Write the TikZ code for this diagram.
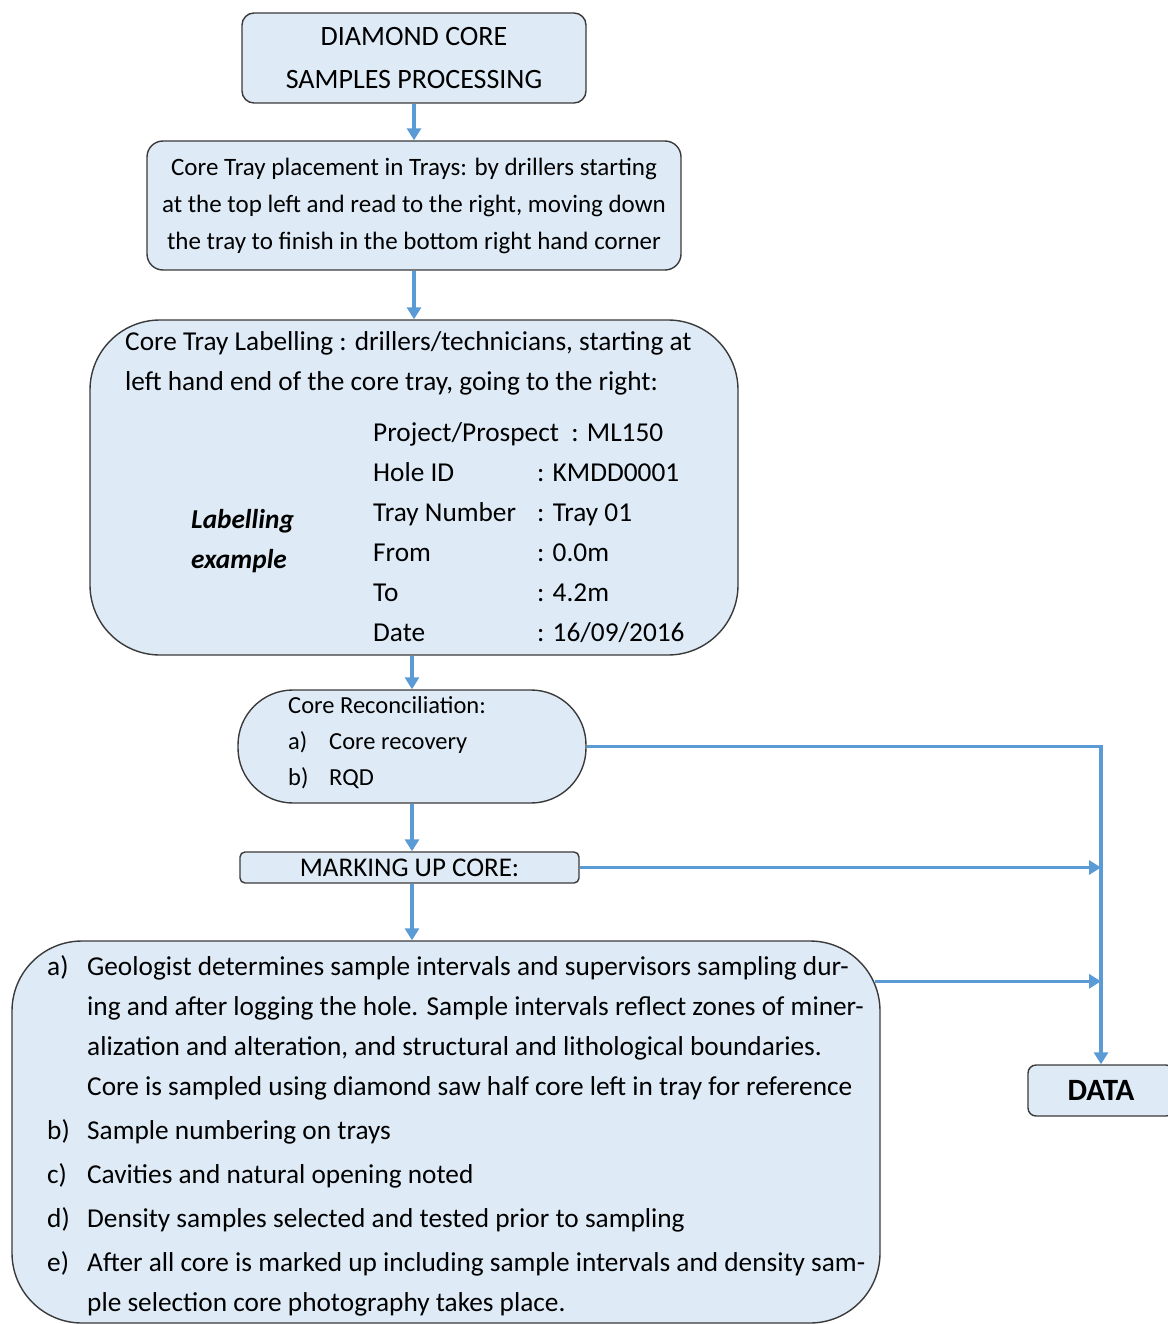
\documentclass[tikz,border=0pt]{standalone}
\usepackage{fontspec}
\setmainfont{Carlito}
\usetikzlibrary{positioning,arrows.meta}
\definecolor{boxfill}{HTML}{DEEBF7}
\definecolor{flowblue}{HTML}{5B9BD5}
\definecolor{edgegray}{HTML}{3A3A3A}

\begin{document}
\begin{tikzpicture}[
    x=1pt,
    y=-1pt,
    proc/.style={
        draw=edgegray,
        fill=boxfill,
        line width=1.4pt,
        inner sep=0pt,
        align=center
    },
    flow/.style={
        draw=flowblue,
        line width=3.5pt,
        -{Triangle[length=12pt,width=14pt]}
    },
    txt/.style={
        inner sep=0pt,
        align=left,
        anchor=west
    }
]
    \useasboundingbox (0,0) rectangle (1167,1324);

    % Process boxes
    \node[proc, rounded corners=12pt, minimum width=344pt, minimum height=90pt,
        font=\fontsize{28}{43}\selectfont] (title) at (414,58)
        {DIAMOND CORE\\SAMPLES PROCESSING};
    \node[proc, rounded corners=16pt, minimum width=534pt, minimum height=129pt,
        font=\fontsize{25}{37}\selectfont] (placement) at (414,205.5)
        {Core Tray placement in Trays: by drillers starting\\
         at the top left and read to the right, moving down\\
         the tray to finish in the bottom right hand corner};
    \node[proc, rounded corners=70pt, minimum width=648pt, minimum height=335pt]
        (labelling) at (414,487.5) {};
    \node[proc, rounded corners=55pt, minimum width=348pt, minimum height=113pt]
        (recon) at (412,746.5) {};
    \node[proc, rounded corners=5pt, minimum width=339pt, minimum height=31pt,
        font=\fontsize{27}{28}\selectfont] (marking) at (409.5,867.5)
        {MARKING UP CORE:};
    \node[proc, rounded corners=70pt, minimum width=868pt, minimum height=382pt]
        (sampling) at (446,1132) {};
    \node[proc, rounded corners=8pt, minimum width=146pt, minimum height=51pt,
        font=\fontsize{31}{32}\selectfont\bfseries] (data) at (1101,1090.5) {DATA};

    % Labelling text
    \node[txt, font=\fontsize{27.3}{40}\selectfont] (labhead) at (125,363)
        {Core Tray Labelling : drillers/technicians, starting at\\
         left hand end of the core tray, going to the right:};
    \node[txt, anchor=north west, font=\fontsize{27.3}{40}\selectfont] (labtable) at (373,413)
        {\begin{tabular}{@{}p{164pt}@{}l@{}}
         \multicolumn{2}{@{}l@{}}{Project/Prospect\ \ : ML150}\\
         Hole ID & : KMDD0001\\
         Tray Number & : Tray 01\\
         From & : 0.0m\\
         To & : 4.2m\\
         Date & : 16/09/2016
         \end{tabular}};
    \node[txt, font=\fontsize{27.3}{40}\selectfont\bfseries\itshape] (labexample) at (191,541)
        {Labelling\\example};

    % Reconciliation text
    \node[txt, font=\fontsize{24.5}{36}\selectfont] (recontext) at (288,743)
        {Core Reconciliation:\\
         \makebox[41pt][l]{a)}Core recovery\\
         \makebox[41pt][l]{b)}RQD};

    % Sampling text
    \node[txt, anchor=north west, font=\fontsize{27.3}{40}\selectfont] (samplingtext) at (47,947)
        {\begin{tabular}{@{}p{40pt}@{}l@{}}
         a) & Geologist determines sample intervals and supervisors sampling dur-\\
            & ing and after logging the hole. Sample intervals reflect zones of miner-\\
            & alization and alteration, and structural and lithological boundaries.\\
            & Core is sampled using diamond saw half core left in tray for reference\\[4pt]
         b) & Sample numbering on trays\\[4pt]
         c) & Cavities and natural opening noted\\[4pt]
         d) & Density samples selected and tested prior to sampling\\[4pt]
         e) & After all core is marked up including sample intervals and density sam-\\
            & ple selection core photography takes place.
         \end{tabular}};

    % Main flow
    \draw[flow] (title.south) -- (placement.north);
    \draw[flow] (placement.south) -- (labelling.north);
    \draw[flow] (labelling.south -| recon.north) -- (recon.north);
    \draw[flow] (recon.south) -- (recon.south |- marking.north);
    \draw[flow] (recon.south |- marking.south) -- (recon.south |- sampling.north);

    % Flows to data
    \coordinate (sampleout) at ([xshift=-6pt,yshift=-41pt]sampling.north east);
    \draw[flow] (recon.east) -| (data.north);
    \draw[flow] (marking.east) -- (marking.east -| data.north);
    \draw[flow] (sampleout) -- (sampleout -| data.north);

\end{tikzpicture}
\end{document}
